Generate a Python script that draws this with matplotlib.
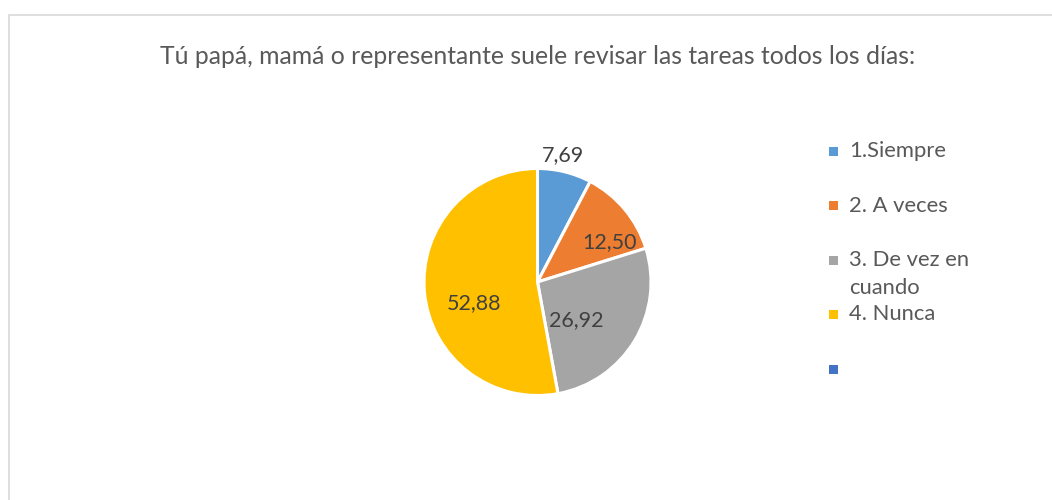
import matplotlib.pyplot as plt
import matplotlib.patches as mpatches
import numpy as np

plt.rcParams['font.family'] = ['Lato', 'DejaVu Sans']

title = "Tú papá, mamá o representante suele revisar las tareas todos los días:"
categories = ["1.Siempre", "2. A veces", "3. De vez en\ncuando", "4. Nunca", ""]
values = [7.69, 12.50, 26.92, 52.88]
labels = ["7,69", "12,50", "26,92", "52,88"]
colors = ["#5B9BD5", "#ED7D31", "#A5A5A5", "#FFC000", "#4472C4"]

# label placement tweaks (radius, angle shift in degrees)
lab_r = [1.14, 0.73, 0.48, 0.59]
lab_shift = [2.4, -10.9, -12.8, 12.8]

W, H = 1052, 500
fig = plt.figure(figsize=(W / 100, H / 100), dpi=100)

# chart area border
fig.patches.append(mpatches.Rectangle((9 / W, -0.1), 1.2, (H - 15) / H + 0.1,
                                      transform=fig.transFigure, fill=False,
                                      edgecolor="#D9D9D9", linewidth=1.2))

fig.text(537.5 / W, 1 - 56 / H, title, ha="center", va="center",
         fontsize=17.8, color="#595959")

cx, cy, r = 537.5, 282, 113.5
ax = fig.add_axes([(cx - r) / W, (H - cy - r) / H, 2 * r / W, 2 * r / H])
wedges, _ = ax.pie(values, colors=colors[:4], startangle=90, counterclock=False,
                   wedgeprops=dict(edgecolor="white", linewidth=2.2))
ax.set_xlim(-1, 1)
ax.set_ylim(-1, 1)
ax.set_aspect("auto")

for w, lab, rr, sh in zip(wedges, labels, lab_r, lab_shift):
    ang = np.deg2rad((w.theta1 + w.theta2) / 2 + sh)
    ax.text(rr * np.cos(ang), rr * np.sin(ang), lab, ha="center", va="center",
            fontsize=15.5, color="#404040", clip_on=False)

# legend
lx, ly0, step = 833, 151, 54.5
for i, (cat, col) in enumerate(zip(categories, colors)):
    y = ly0 + i * step
    fig.patches.append(mpatches.Rectangle(((lx - 4.5) / W, 1 - (y + 4.5) / H), 9 / W, 9 / H,
                                          transform=fig.transFigure, facecolor=col,
                                          edgecolor="none"))
    for k, line in enumerate(cat.split("\n")):
        fig.text(849 / W, 1 - (y + 28 * k) / H, line, ha="left", va="center",
                 fontsize=15.8, color="#595959")

fig.savefig("out.png", dpi=100)
